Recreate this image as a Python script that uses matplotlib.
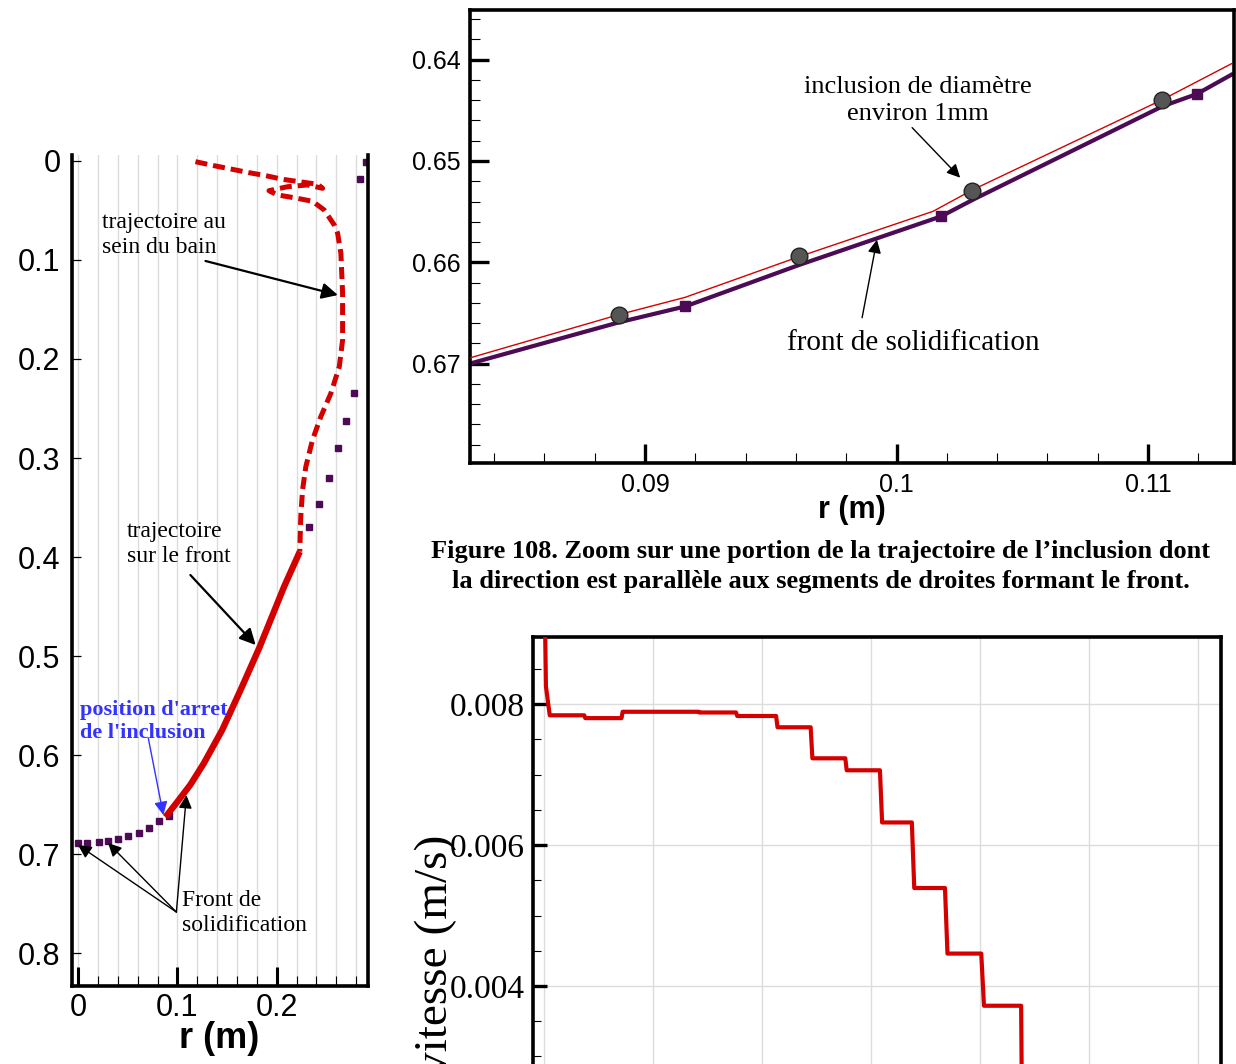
import matplotlib
matplotlib.use("Agg")
import matplotlib.pyplot as plt
from matplotlib.ticker import MultipleLocator, FormatStrFormatter

SANS = "Liberation Sans"
SERIF = "Liberation Serif"
ROUGE = "#d40000"
VIOLET = "#4d0a55"

# --- trajectoire de l'inclusion (panneau gauche) ---
bain_r = [0.1182, 0.1367, 0.1553, 0.172, 0.1889, 0.2058, 0.2225, 0.2411, 0.2462,
          0.231, 0.2108, 0.1922, 0.2007, 0.2175, 0.236, 0.2478, 0.2579,
          0.2613, 0.2646, 0.2663, 0.2663, 0.263, 0.2545, 0.2444,
          0.236, 0.2293, 0.226, 0.2242, 0.2232]
bain_z = [0.0007, 0.0047, 0.0084, 0.0118, 0.0148, 0.0185, 0.0209, 0.0235, 0.0276,
          0.0242, 0.026, 0.030, 0.0343, 0.0371, 0.0407, 0.0495, 0.0646,
          0.073, 0.0933, 0.1337, 0.1808, 0.2077, 0.2347, 0.2582,
          0.2818, 0.3088, 0.3323, 0.3593, 0.3946]
surfront_r = [0.2232, 0.2074, 0.1822, 0.1636, 0.1451, 0.1266, 0.1131, 0.1013, 0.0896, 0.0879]
surfront_z = [0.3946, 0.430, 0.4923, 0.5343, 0.5747, 0.6084, 0.630, 0.6455, 0.6606, 0.6626]
front_r = [0.0, 0.0094, 0.0209, 0.0306, 0.0407, 0.0508, 0.0609, 0.0714, 0.0815, 0.0912,
           0.2327, 0.2428, 0.2529, 0.2619, 0.2700, 0.2781, 0.2842, 0.2899]
front_z = [0.689, 0.689, 0.6882, 0.6869, 0.6848, 0.6815, 0.6788, 0.6741, 0.6667, 0.662,
           0.370, 0.3468, 0.3205, 0.2902, 0.263, 0.2347, 0.0185, 0.0007]

# --- zoom (panneau haut droite) ---
zincl_r = [0.08301, 0.08895, 0.0916, 0.09615, 0.10145, 0.10304, 0.11057, 0.11332]
zincl_z = [0.66945, 0.66517, 0.66345, 0.65942, 0.65497, 0.65283, 0.64395, 0.6404]
zcercle_r = [0.08895, 0.09611, 0.10300, 0.11057]
zcercle_z = [0.66517, 0.65942, 0.65293, 0.64402]
zfront_r = [0.08301, 0.08895, 0.0916, 0.09615, 0.10177, 0.10304, 0.11057, 0.11194, 0.11332]
zfront_z = [0.67001, 0.66593, 0.66435, 0.66024, 0.65547, 0.65382, 0.64461, 0.64339, 0.64148]
zfront_carres = [2, 4, 7]

# --- vitesse (panneau bas droite) ---
vit_t = [0, 1.4, 4.9, 36.6, 37.5, 70.8, 71.8, 141.7, 142, 175.9, 177, 212.7, 214,
         244.4, 246, 276.2, 277.5, 308, 310, 337.3, 339.5, 367.7, 370, 401, 403.5,
         437.6, 438.5]
vit_v = [0.0098, 0.00825, 0.00784, 0.00784, 0.0078, 0.0078, 0.00789, 0.00789, 0.00788,
         0.00788, 0.00783, 0.00783, 0.00767, 0.00767, 0.00723, 0.00723, 0.00706,
         0.00706, 0.00632, 0.00632, 0.00539, 0.00539, 0.00446, 0.00446, 0.00372,
         0.00372, 0.0020]

fig = plt.figure(figsize=(12.36, 10.64), dpi=100)

# ================= panneau gauche =================
ax1 = fig.add_axes([0.05785, 0.07284, 0.2395, 0.7815])
ax1.set_xlim(-0.00657, 0.2914)
ax1.set_ylim(0.8338, -0.00606)
for x in [i * 0.02 for i in range(15)]:
    ax1.axvline(x, color="#dcdcdc", lw=1.0, zorder=0)
ax1.plot(bain_r, bain_z, color=ROUGE, lw=3.6, ls=(0, (2.4, 1.2)), zorder=3)
ax1.plot(surfront_r, surfront_z, color=ROUGE, lw=4.6, solid_capstyle="butt",
         solid_joinstyle="round", zorder=3)
ax1.plot(front_r, front_z, ls="none", marker="s", ms=4, color=VIOLET, zorder=2)
ax1.spines["top"].set_visible(False)
for s in ["left", "right", "bottom"]:
    ax1.spines[s].set_linewidth(2.6)
ax1.set_xticks([0, 0.1, 0.2])
ax1.set_xticklabels(["0", "0.1", "0.2"])
ax1.xaxis.set_minor_locator(MultipleLocator(0.02))
ax1.set_yticks([0.1 * i for i in range(9)])
ax1.set_yticklabels(["0", "0.1", "0.2", "0.3", "0.4", "0.5", "0.6", "0.7", "0.8"])
ax1.tick_params(axis="x", which="major", direction="in", length=14, width=2.2, pad=5,
                labelsize=22, labelfontfamily=SANS)
ax1.tick_params(axis="x", which="minor", direction="in", length=7, width=0.8)
ax1.tick_params(axis="y", which="major", direction="in", length=6.5, width=0.9, pad=8,
                labelsize=22, labelfontfamily=SANS)
ax1.set_xlabel("r (m)", fontsize=26, fontweight="bold", family=SANS, labelpad=-2)

fl = dict(arrowstyle="-|>", color="k", lw=1.6, mutation_scale=24, shrinkA=0, shrinkB=0)
ax1.text(0.0242, 0.0747, "trajectoire au\nsein du bain", family=SERIF, fontsize=17,
         ha="left", va="center", linespacing=1.2)
ax1.annotate("", xy=(0.2616, 0.1354), xytext=(0.1283, 0.101), arrowprops=fl)
ax1.text(0.0495, 0.3869, "trajectoire\nsur le front", family=SERIF, fontsize=17,
         ha="left", va="center", linespacing=1.2)
ax1.annotate("", xy=(0.1788, 0.4889), xytext=(0.1131, 0.4182), arrowprops=fl)
ax1.text(0.002, 0.5657, "position d'arret\nde l'inclusion", family=SERIF, fontsize=16,
         fontweight="bold", color="#3333ff", ha="left", va="center", linespacing=1.2)
ax1.annotate("", xy=(0.0859, 0.6606), xytext=(0.0707, 0.5828),
             arrowprops=dict(arrowstyle="-|>", color="#3333ff", lw=1.0,
                             mutation_scale=20, shrinkA=0, shrinkB=0))
ax1.text(0.105, 0.7596, "Front de\nsolidification", family=SERIF, fontsize=17,
         ha="left", va="center", linespacing=1.2)
fl_fin = dict(arrowstyle="-|>", color="k", lw=1.0, mutation_scale=20, shrinkA=0, shrinkB=0)
for hx, hz in [(0.0, 0.6909), (0.0303, 0.6889), (0.1091, 0.6404)]:
    ax1.annotate("", xy=(hx, hz), xytext=(0.099, 0.7586), arrowprops=fl_fin)

# ================= panneau haut droite =================
ax2 = fig.add_axes([0.3803, 0.5649, 0.6181, 0.4257])
ax2.set_xlim(0.08304, 0.11342)
ax2.set_ylim(0.6798, 0.6351)
ax2.plot(zincl_r, zincl_z, color=ROUGE, lw=1.0, zorder=3)
ax2.plot(zfront_r, zfront_z, color=VIOLET, lw=3.0, marker="s", ms=7.5,
         markevery=zfront_carres, zorder=2)
ax2.plot(zcercle_r, zcercle_z, ls="none", marker="o", ms=12, mfc="#555555",
         mec="#222222", mew=1.0, zorder=4)
for s in ax2.spines.values():
    s.set_linewidth(2.6)
ax2.set_xticks([0.09, 0.1, 0.11])
ax2.set_xticklabels(["0.09", "0.1", "0.11"])
ax2.xaxis.set_minor_locator(MultipleLocator(0.002))
ax2.set_yticks([0.64, 0.65, 0.66, 0.67])
ax2.yaxis.set_major_formatter(FormatStrFormatter("%.2f"))
ax2.yaxis.set_minor_locator(MultipleLocator(0.002))
ax2.tick_params(which="major", direction="in", length=14, width=2.4, pad=7,
                labelsize=18, labelfontfamily=SANS)
ax2.tick_params(which="minor", direction="in", length=7, width=0.8)
ax2.set_xlabel("r (m)", fontsize=22, fontweight="bold", family=SANS, labelpad=-1)
ax2.text(0.10086, 0.64405, "inclusion de diamètre\nenviron 1mm", family=SERIF,
         fontsize=19, ha="center", va="center", linespacing=1.3)
ax2.annotate("", xy=(0.10253, 0.65165), xytext=(0.10062, 0.64671),
             arrowprops=dict(arrowstyle="-|>", color="k", lw=1.0, mutation_scale=20,
                             shrinkA=0, shrinkB=0))
ax2.text(0.10066, 0.66794, "front de solidification", family=SERIF, fontsize=21,
         ha="center", va="center")
ax2.annotate("", xy=(0.09922, 0.65777), xytext=(0.09863, 0.66547),
             arrowprops=dict(arrowstyle="-|>", color="k", lw=1.0, mutation_scale=20,
                             shrinkA=0, shrinkB=0))

fig.text(0.664, 0.4676,
         "Figure 108. Zoom sur une portion de la trajectoire de l\u2019inclusion dont\n"
         "la direction est parallèle aux segments de droites formant le front.",
         family=SERIF, fontweight="bold", fontsize=19, ha="center", va="center",
         linespacing=1.38)

# ================= panneau bas droite =================
ax3 = fig.add_axes([0.4312, -0.0592, 0.5566, 0.4608])
ax3.set_xlim(-10.5, 621)
ax3.set_ylim(0.002, 0.008955)
ax3.plot(vit_t, vit_v, color=ROUGE, lw=3.0, zorder=3)
ax3.grid(True, color="#dcdcdc", lw=1.0)
ax3.set_axisbelow(True)
ax3.xaxis.set_major_locator(MultipleLocator(100))
ax3.yaxis.set_major_locator(MultipleLocator(0.002))
ax3.yaxis.set_minor_locator(MultipleLocator(0.0005))
ax3.yaxis.set_major_formatter(FormatStrFormatter("%.3f"))
for s in ax3.spines.values():
    s.set_linewidth(2.6)
ax3.tick_params(axis="y", which="major", direction="in", length=10, width=2.4, pad=6,
                labelsize=24, labelfontfamily=SERIF)
ax3.tick_params(axis="y", which="minor", direction="in", length=6, width=0.8)
ax3.tick_params(axis="x", which="both", length=0, labelbottom=False)
fig.text(0.3528, 0.2152, "vitesse (m/s)", family=SERIF, fontsize=34, rotation=90,
         ha="center", va="top")

fig.savefig("out.png", dpi=100)
